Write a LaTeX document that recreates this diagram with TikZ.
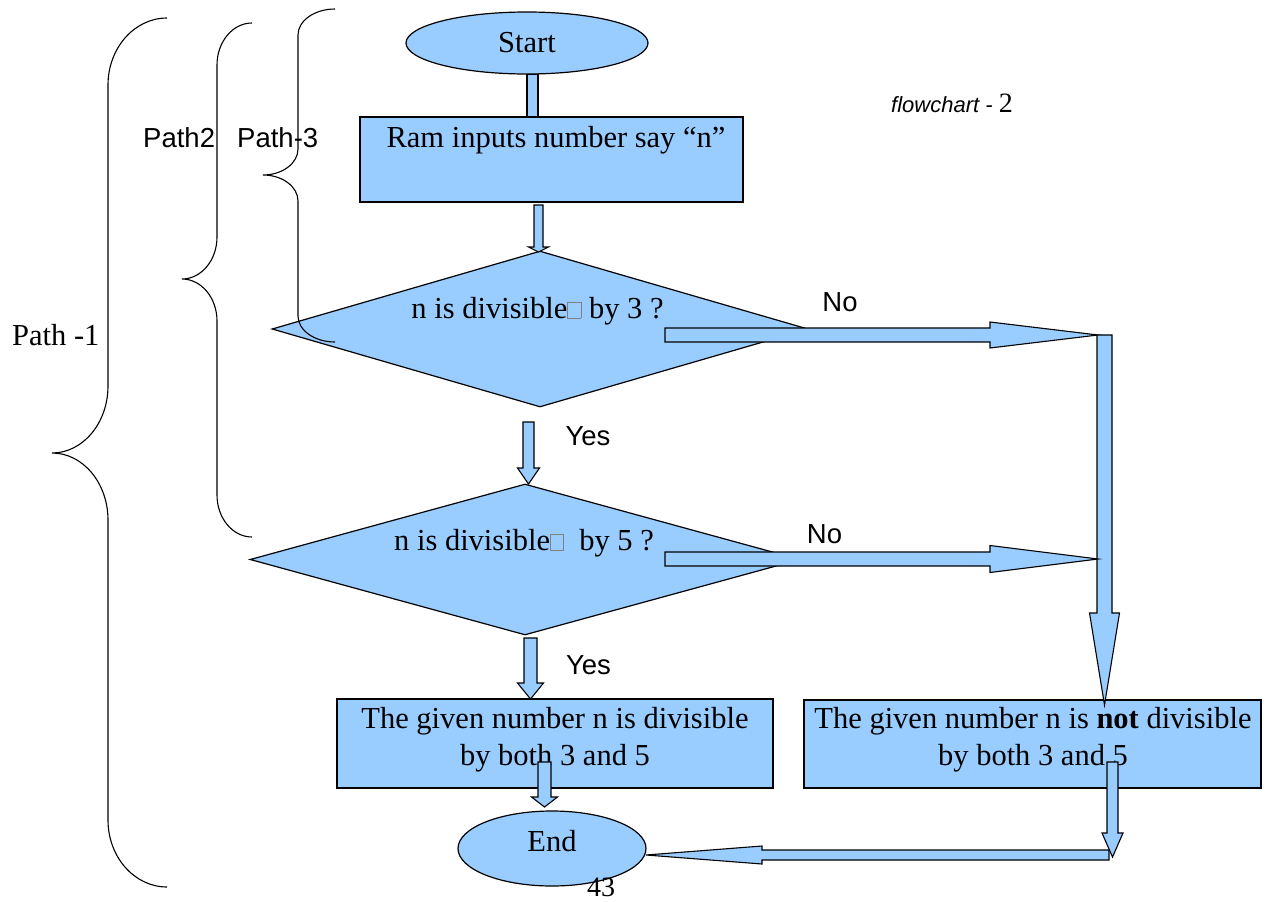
\documentclass[tikz,border=0pt]{standalone}
\usepackage{fontspec}
\setmainfont{Liberation Serif}
\setsansfont{Liberation Sans}
\usetikzlibrary{shapes.geometric}
\definecolor{flblue}{HTML}{99CCFF}
\newcommand{\missbox}{{\color{gray}\setlength{\fboxrule}{0.6pt}\setlength{\fboxsep}{0pt}\fbox{\rule{0pt}{0.5em}\hspace{0.42em}}}}
\newcommand{\flbrace}[7]{%
 \draw[bracestyle] (#1,#4) .. controls ({#1-0.552*(#1-#2)},#4) and (#2,{#4+0.448*#7}) .. (#2,{#4+#7})
 -- (#2,{#5-#7}) .. controls (#2,{#5-0.448*#7}) and ({#3+0.552*(#2-#3)},#5) .. (#3,#5)
 .. controls ({#3+0.552*(#2-#3)},#5) and (#2,{#5+0.448*#7}) .. (#2,{#5+#7})
 -- (#2,{#6-#7}) .. controls (#2,{#6-0.448*#7}) and ({#1-0.552*(#1-#2)},#6) .. (#1,#6);}
% vertical block arrow: xc, y0, yhead, ytip, half shaft, half head
\newcommand{\varrow}[6]{%
 \filldraw[arr] ({#1-#5},#2) -- ({#1+#5},#2) -- ({#1+#5},#3) -- ({#1+#6},#3) -- (#1,#4) -- ({#1-#6},#3) -- ({#1-#5},#3) -- cycle;}
% horizontal block arrow: yc, x0, xhead, xtip, half shaft, half head
\newcommand{\harrow}[6]{%
 \filldraw[arr] (#2,{#1-#5}) -- (#3,{#1-#5}) -- (#3,{#1-#6}) -- (#4,#1) -- (#3,{#1+#6}) -- (#3,{#1+#5}) -- (#2,{#1+#5}) -- cycle;}
\begin{document}
\begin{tikzpicture}[x=1pt,y=-1pt,
  blk/.style={draw=black, fill=flblue, line width=1.2pt},
  boxnode/.style={blk, rectangle, inner sep=0pt},
  ellnode/.style={blk, ellipse, inner sep=0pt},
  dianode/.style={blk, diamond, inner sep=0pt},
  serif/.style={font=\fontsize{30.5}{37}\selectfont, inner sep=0pt},
  sanslbl/.style={font=\fontsize{27.5}{33}\selectfont\sffamily, inner sep=0pt},
  arr/.style={draw=black, fill=flblue, line width=1.1pt, line join=miter},
  bracestyle/.style={draw=black, line width=1.1pt}]
\useasboundingbox (0,0) rectangle (1269,902);
\fill[white] (0,0) rectangle (1269,902);

% start connector bar (behind box)
\filldraw[arr] (527,74) rectangle (538,117);

% nodes
\node[ellnode, minimum width=242, minimum height=62] (start) at (527,43) {};
\node[boxnode, minimum width=383, minimum height=85] (ram) at (551.5,159.5) {};
\node[dianode, minimum width=536, minimum height=156] (d1) at (540,329) {};
\node[dianode, minimum width=550, minimum height=151] (d2) at (525,559.5) {};
\node[boxnode, minimum width=436, minimum height=89] (yesbox) at (555,743.5) {};
\node[boxnode, minimum width=457, minimum height=88] (notbox) at (1032.5,744) {};
\node[ellnode, minimum width=188, minimum height=75] (end) at (552,848.5) {};

% texts
\node[serif, anchor=base] (startt) at (527,52) {Start};
\node[serif, anchor=base] (ramt) at (556,147) {Ram inputs number say “n”};
\node[serif, anchor=base] (d1t) at (537.5,318) {n is divisible\missbox{} by 3 ?};
\node[serif, anchor=base] (d2t) at (524,550) {n is divisible\missbox{}\ \ by 5 ?};
\node[serif, anchor=base] (yes1) at (555,728) {The given number n is divisible};
\node[serif, anchor=base] (yes2) at (555,765) {by both 3 and 5};
\node[serif, anchor=base] (not1) at (1033,728) {The given number n is \textbf{not} divisible};
\node[serif, anchor=base] (not2) at (1033,765) {by both 3 and 5};
\node[serif, anchor=base] (endt) at (552,851) {End};

% block arrows
\varrow{538.5}{205}{247}{252}{4.5}{10}
\harrow{335}{665}{990}{1098}{7}{13}
\varrow{1104.5}{335}{613}{705}{7.5}{15}
\varrow{528.5}{422}{468}{484}{5.5}{11}
\harrow{559}{665}{990}{1098}{7}{13.5}
\varrow{530.5}{638}{683}{699}{6.5}{13}
\varrow{544.5}{762}{797}{807}{6.5}{13}
\varrow{1112.5}{762}{833}{857}{5.5}{10.5}
\harrow{855}{1109}{762}{646}{5}{9}

% labels
\node[sanslbl, anchor=base] (no1) at (840,311) {No};
\node[sanslbl, anchor=base] (no2) at (824.5,543) {No};
\node[sanslbl, anchor=base] (yl1) at (588,445) {Yes};
\node[sanslbl, anchor=base] (yl2) at (588.5,674) {Yes};
\node[sanslbl, anchor=base west] (p2) at (143,147) {Path2};
\node[sanslbl, anchor=base west] (p3) at (237,147) {Path-3};
\node[serif, anchor=base west] (p1) at (12,345) {Path -1};
\node[inner sep=0pt, anchor=base west] (fc) at (891,112)
  {{\fontsize{22}{26}\selectfont\sffamily\itshape flowchart - }{\fontsize{28}{32}\selectfont 2}};
\node[inner sep=0pt, anchor=base, font=\fontsize{28}{32}\selectfont] (pg) at (601,896) {43};

% braces
\flbrace{167}{108}{52}{18}{453}{887}{67}
\flbrace{252}{217}{182}{23}{279}{537}{42}
\flbrace{335}{298}{263}{9}{175}{342}{26}
\end{tikzpicture}
\end{document}
